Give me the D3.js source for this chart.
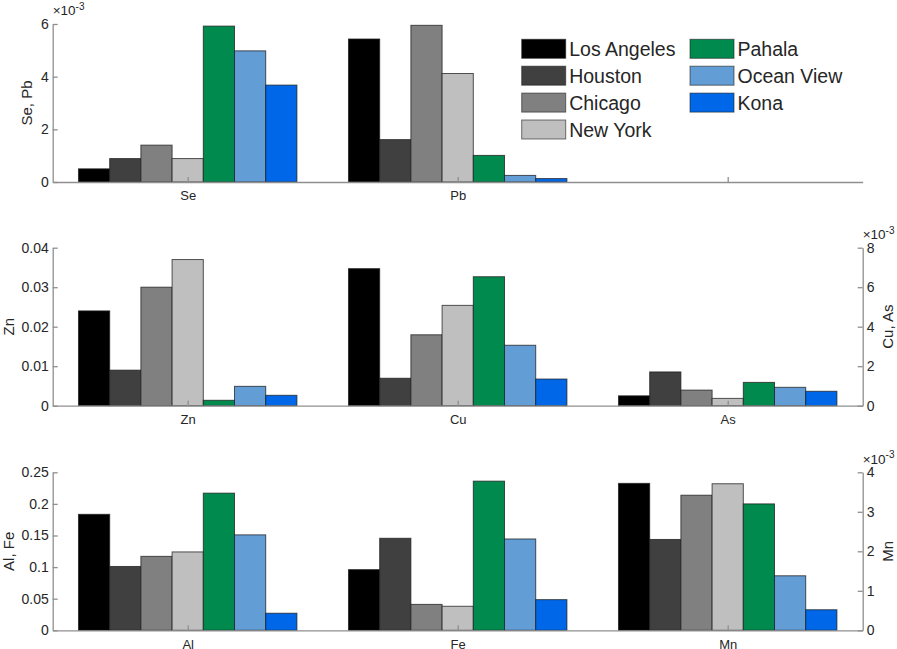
<!DOCTYPE html>
<html>
<head>
<meta charset="utf-8">
<script src="https://cdn.jsdelivr.net/npm/d3@7"></script>
<style>
  html, body { margin: 0; padding: 0; background: #fff; }
  svg { display: block; }
  text { font-family: "Liberation Sans", Arial, sans-serif; fill: #262626; }
</style>
</head>
<body>
<svg id="chart" width="897" height="649"></svg>
<script>
// Sampling sites (series) and their fill colours
const cities = ["Los Angeles", "Houston", "Chicago", "New York", "Pahala", "Ocean View", "Kona"];
const cityColors = ["#000000", "#404040", "#808080", "#bfbfbf", "#008a4e", "#639dd6", "#0068e8"];

// Element concentrations per site
const seValues = [0.0005, 0.00089, 0.0014, 0.00089, 0.00592, 0.00498, 0.00368];
const pbValues = [0.00543, 0.00161, 0.00595, 0.00412, 0.00101, 0.00025, 0.00013];
const znValues = [0.024, 0.009, 0.030, 0.037, 0.00137, 0.0049, 0.00263];
const cuValues = [0.00694, 0.00139, 0.00359, 0.00508, 0.00653, 0.00306, 0.00135];
const asValues = [0.0005, 0.00171, 0.00079, 0.00037, 0.00118, 0.00093, 0.00073];
const alValues = [0.1835, 0.101, 0.117, 0.124, 0.217, 0.151, 0.027];
const feValues = [0.096, 0.1456, 0.041, 0.038, 0.236, 0.1445, 0.0485];
const mnValues = [0.00372, 0.0023, 0.00342, 0.00371, 0.0032, 0.00138, 0.00052];

// Category tick labels for each row
const topLabels = ["Se", "Pb", ""];
const midLabels = ["Zn", "Cu", "As"];
const botLabels = ["Al", "Fe", "Mn"];

// Axis tick values
const topLeftTicks = [0, 0.002, 0.004, 0.006];
const midLeftTicks = [0, 0.01, 0.02, 0.03, 0.04];
const midRightTicks = [0, 0.002, 0.004, 0.006, 0.008];
const botLeftTicks = [0, 0.05, 0.1, 0.15, 0.2, 0.25];
const botRightTicks = [0, 0.001, 0.002, 0.003, 0.004];

// Row definitions: which values sit at which category slot and on which y axis
const rows = [
  {
    top: 24, labels: topLabels, leftTitle: "Se, Pb", leftTitleX: 28, rightTitle: null,
    left: { domain: [0, 0.006], ticks: topLeftTicks, scaled: true },
    right: null,
    groups: [{ pos: 1, values: seValues, side: "left" }, { pos: 2, values: pbValues, side: "left" }]
  },
  {
    top: 247.7, labels: midLabels, leftTitle: "Zn", leftTitleX: 10, rightTitle: "Cu, As",
    left: { domain: [0, 0.04], ticks: midLeftTicks, scaled: false },
    right: { domain: [0, 0.008], ticks: midRightTicks, scaled: true },
    groups: [{ pos: 1, values: znValues, side: "left" }, { pos: 2, values: cuValues, side: "right" }, { pos: 3, values: asValues, side: "right" }]
  },
  {
    top: 472.3, labels: botLabels, leftTitle: "Al, Fe", leftTitleX: 10.5, rightTitle: "Mn",
    left: { domain: [0, 0.25], ticks: botLeftTicks, scaled: false },
    right: { domain: [0, 0.004], ticks: botRightTicks, scaled: true },
    groups: [{ pos: 1, values: alValues, side: "left" }, { pos: 2, values: feValues, side: "left" }, { pos: 3, values: mnValues, side: "right" }]
  }
];

const svg = d3.select("#chart");
const plotLeft = 52.7, plotRight = 862.7, plotHeight = 158;
const axisColor = "#8f8f8f";
const tickFont = 14;

const x = d3.scaleLinear().domain([0.5, 3.5]).range([plotLeft, plotRight]);
// Offsets of each site's bar within a category, in category units
const inner = d3.scaleBand().domain(cities).range([-0.4045, 0.4045]);
const barWidth = x(inner.bandwidth()) - x(0);

function styleAxis(g) {
  g.selectAll("path.domain").attr("stroke", axisColor).attr("stroke-width", 1.3);
  g.selectAll(".tick line").attr("stroke", axisColor).attr("stroke-width", 1.3);
  g.selectAll(".tick text").attr("fill", "#262626").style("font-size", tickFont + "px")
    .style("font-family", "'Liberation Sans', Arial, sans-serif");
}

// "×10^-3" multiplier shown above a scaled axis
function exponentLabel(px, baseline) {
  const t = svg.append("text").attr("x", px).attr("y", baseline).style("font-size", "13.5px");
  t.append("tspan").text("\u00d710");
  t.append("tspan").attr("dy", -5.5).style("font-size", "10px").text("-3");
}

rows.forEach(row => {
  const bottom = row.top + plotHeight;
  const yL = d3.scaleLinear().domain(row.left.domain).range([bottom, row.top]);
  const yR = row.right ? d3.scaleLinear().domain(row.right.domain).range([bottom, row.top]) : null;

  // Bars
  row.groups.forEach(grp => {
    const y = grp.side === "left" ? yL : yR;
    svg.append("g").selectAll("rect")
      .data(grp.values)
      .join("rect")
      .attr("x", (d, i) => x(grp.pos + inner(cities[i])))
      .attr("y", d => y(d))
      .attr("width", barWidth)
      .attr("height", d => y(0) - y(d))
      .attr("fill", (d, i) => cityColors[i])
      .attr("stroke", "#1e1e1e")
      .attr("stroke-opacity", 0.75)
      .attr("stroke-width", 1);
  });

  // X axis
  const gx = svg.append("g").attr("transform", `translate(0,${bottom})`)
    .call(d3.axisBottom(x).tickValues([1, 2, 3]).tickFormat((d, i) => row.labels[i])
      .tickSizeInner(-5).tickSizeOuter(0).tickPadding(9));
  styleAxis(gx);
  gx.selectAll(".tick text").style("font-size", "13px");

  // Left y axis
  const fmtL = row.left.scaled ? (d => d3.format("~g")(Math.round(d * 1000))) : d3.format("~g");
  const gyl = svg.append("g").attr("transform", `translate(${plotLeft},0)`)
    .call(d3.axisLeft(yL).tickValues(row.left.ticks).tickFormat(fmtL)
      .tickSizeInner(-5).tickSizeOuter(0).tickPadding(4));
  styleAxis(gyl);
  if (row.left.scaled) exponentLabel(plotLeft, row.top - 9);

  svg.append("text")
    .attr("transform", `translate(${row.leftTitleX},${row.top + plotHeight / 2}) rotate(-90)`)
    .attr("text-anchor", "middle").attr("dominant-baseline", "middle")
    .style("font-size", "15px").text(row.leftTitle);

  // Right y axis
  if (row.right) {
    const fmtR = d => d3.format("~g")(Math.round(d * 1000));
    const gyr = svg.append("g").attr("transform", `translate(${plotRight},0)`)
      .call(d3.axisRight(yR).tickValues(row.right.ticks).tickFormat(fmtR)
        .tickSizeInner(-5).tickSizeOuter(0).tickPadding(4));
    styleAxis(gyr);
    exponentLabel(plotRight, row.top - 8.5);
    svg.append("text")
      .attr("transform", `translate(889,${row.top + plotHeight / 2}) rotate(-90)`)
      .attr("text-anchor", "middle").attr("dominant-baseline", "middle")
      .style("font-size", "15px").text(row.rightTitle);
  }
});

// Legend in two columns
const legendCols = [521.7, 690];
const legendRowTop = 39.3, legendStep = 26.9;
const legend = svg.append("g");
cities.forEach((c, i) => {
  const col = i < 4 ? 0 : 1;
  const r = i < 4 ? i : i - 4;
  const gx = legendCols[col], gy = legendRowTop + r * legendStep;
  legend.append("rect").attr("x", gx).attr("y", gy).attr("width", 44).attr("height", 19)
    .attr("fill", cityColors[i]).attr("stroke", "#1e1e1e").attr("stroke-opacity", 0.6).attr("stroke-width", 1);
  legend.append("text").attr("x", gx + 47.5).attr("y", gy + 9.5)
    .attr("dominant-baseline", "central").style("font-size", "19.5px").text(c);
});
</script>
</body>
</html>
